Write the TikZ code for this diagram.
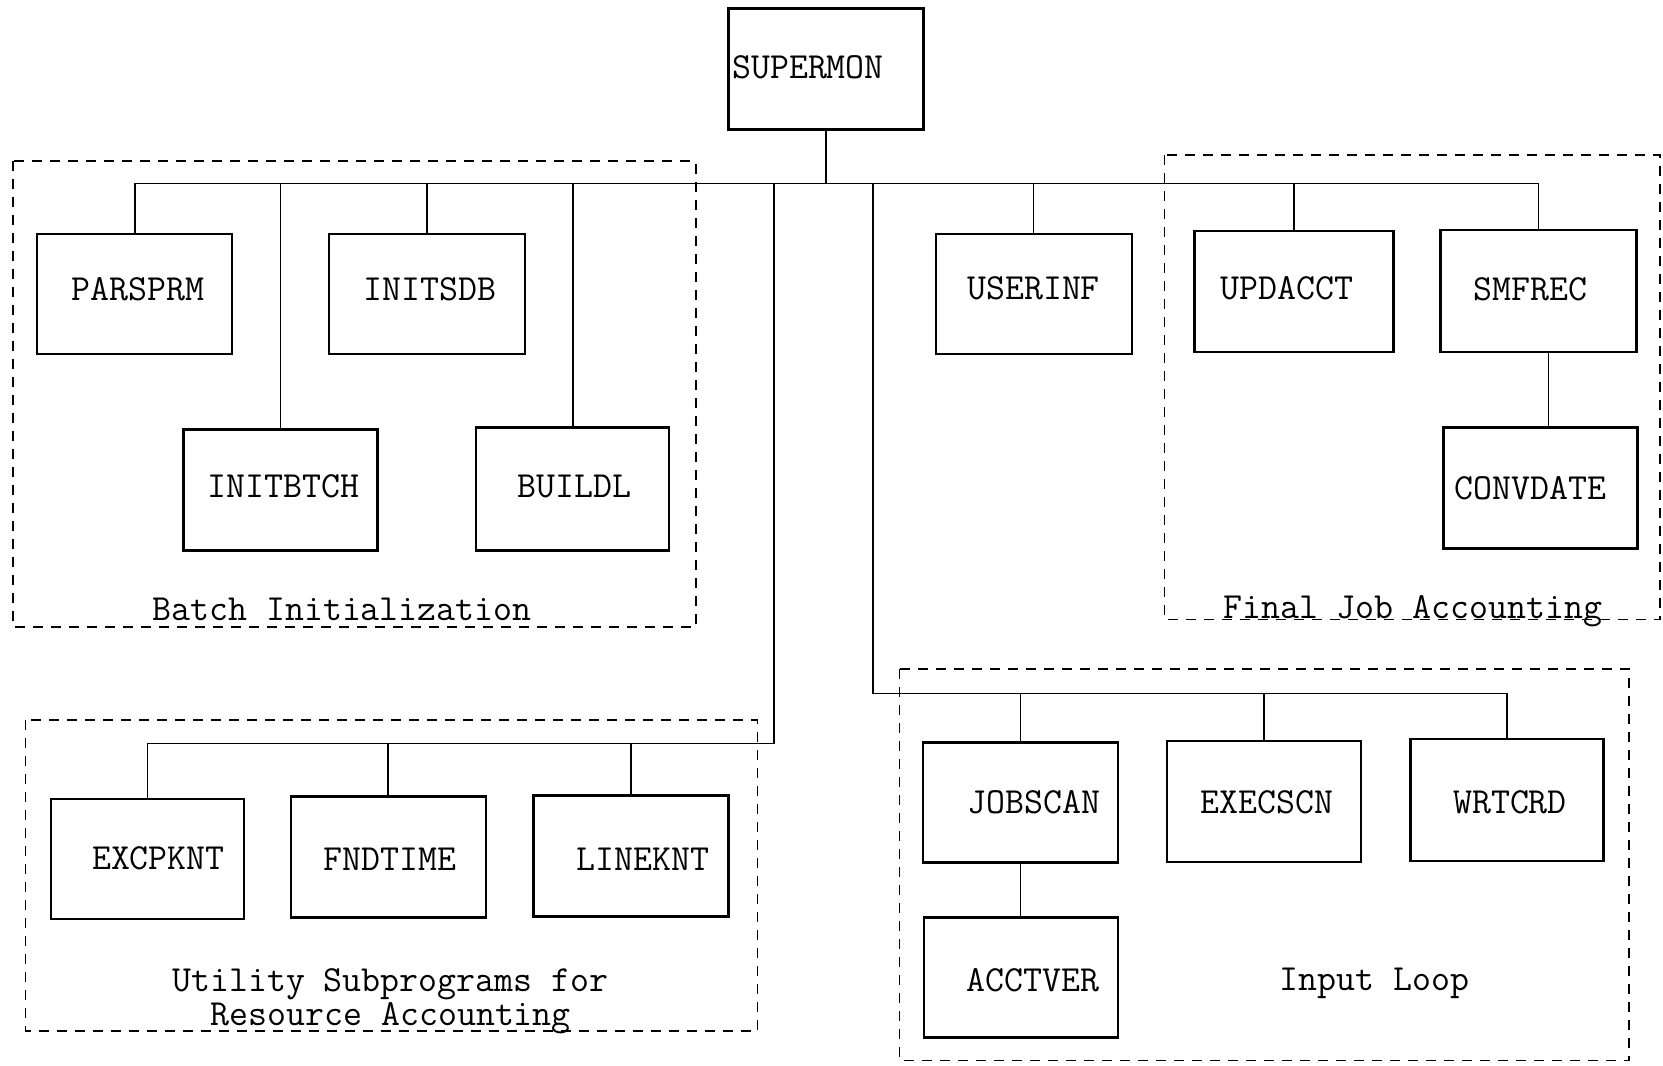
\documentclass[tikz,border=0pt]{standalone}
\usetikzlibrary{calc}
\begin{document}
\begin{tikzpicture}[x=0.5pt,y=-0.5pt,
  modbox/.style={draw, line width=1.1pt, inner sep=0pt},
  lbl/.style={font=\fontsize{18.4}{20}\selectfont\ttfamily, inner sep=0pt},
  conn/.style={line width=0.8pt},
  grp/.style={line width=0.8pt, dash pattern=on 5pt off 4pt},
  grplbl/.style={font=\fontsize{18.4}{20}\selectfont\ttfamily, inner sep=0pt, anchor=base}]
\useasboundingbox (0,0) rectangle (1663,1065);
\newcommand\modnode[8]{\node[modbox, minimum width=#4*0.5pt, minimum height=#5*0.5pt,
   label={[lbl, shift={(#6,#7)}]center:#8}] (#1) at (#2,#3) {};}
% group frames
\draw[grp] (12.7,161.2) rectangle (695.8,626.8);
\draw[grp] (1164.5,154.8) rectangle (1660,619.4);
\draw[grp] (25.5,720.1) rectangle (757.3,1030.9);
\draw[grp] (899.4,669.2) rectangle (1629.1,1060.6);
% modules
\modnode{supermon}{826}{69}{195}{121}{-18}{-2}{SUPERMON}
\modnode{parsprm}{134.7}{294.3}{195}{120}{3}{-5}{PARSPRM}
\modnode{initsdb}{427}{294.3}{196}{120}{3}{-5}{INITSDB}
\modnode{initbtch}{280.5}{490}{194}{121}{3}{-4}{INITBTCH}
\modnode{buildl}{572.7}{489}{193}{123}{2}{-3}{BUILDL}
\modnode{userinf}{1033.6}{294.3}{196}{120}{0}{-6}{USERINF}
\modnode{updacct}{1293.9}{291.7}{199}{121}{-7}{-3}{UPDACCT}
\modnode{smfrec}{1538.4}{291.1}{196}{122}{-8}{-2}{SMFREC}
\modnode{convdate}{1540.5}{488}{194}{121}{-10}{0}{CONVDATE}
\modnode{excpknt}{147.4}{858.6}{193}{120}{11}{0}{EXCPKNT}
\modnode{fndtime}{388.2}{857}{195}{121}{2}{2}{FNDTIME}
\modnode{lineknt}{631}{856}{195}{121}{12}{3}{LINEKNT}
\modnode{jobscan}{1020.3}{802.4}{195}{120}{14}{0}{JOBSCAN}
\modnode{execscn}{1263.7}{801.8}{194}{121}{3}{0}{EXECSCN}
\modnode{wrtcrd}{1507}{800}{193}{122}{3}{2}{WRTCRD}
\modnode{acctver}{1020.8}{977.4}{194}{120}{12}{3}{ACCTVER}
% bus coordinates
\coordinate (busL) at (134.7,183.5);
\coordinate (uTop) at (774.2,183.5);
\coordinate (uCorner) at (774.2,743.5);
\coordinate (iTop) at (872.9,183.5);
\coordinate (iCorner) at (872.9,693.6);
\coordinate (smfOut) at ($(smfrec.south)+(10,0)$);
% connectors
\draw[conn] (supermon.south) -- (supermon.south |- busL);
\draw[conn] (parsprm.north) |- (smfrec.north |- busL) -- (smfrec.north);
\draw[conn] (initbtch.north) -- (initbtch.north |- busL);
\draw[conn] (initsdb.north) -- (initsdb.north |- busL);
\draw[conn] (buildl.north) -- (buildl.north |- busL);
\draw[conn] (userinf.north) -- (userinf.north |- busL);
\draw[conn] (updacct.north) -- (updacct.north |- busL);
\draw[conn] (smfOut) -- (smfOut |- convdate.north);
\draw[conn] (uTop) -- (uCorner) -| (excpknt.north);
\draw[conn] (fndtime.north) -- (fndtime.north |- uCorner);
\draw[conn] (lineknt.north) -- (lineknt.north |- uCorner);
\draw[conn] (iTop) -- (iCorner) -| (wrtcrd.north);
\draw[conn] (jobscan.north) -- (jobscan.north |- iCorner);
\draw[conn] (execscn.north) -- (execscn.north |- iCorner);
\draw[conn] (jobscan.south) -- (jobscan.south |- acctver.north);
% group labels
\node[grplbl] (batchlbl) at (342,620) {Batch Initialization};
\node[grplbl] (finallbl) at (1412.7,618) {Final Job Accounting};
\node[grplbl] (util1) at (390.3,991.7) {Utility Subprograms for};
\node[grplbl] (util2) at (390.8,1025.6) {Resource Accounting};
\node[grplbl] (inputlbl) at (1374.5,990.6) {Input Loop};
\end{tikzpicture}
\end{document}
